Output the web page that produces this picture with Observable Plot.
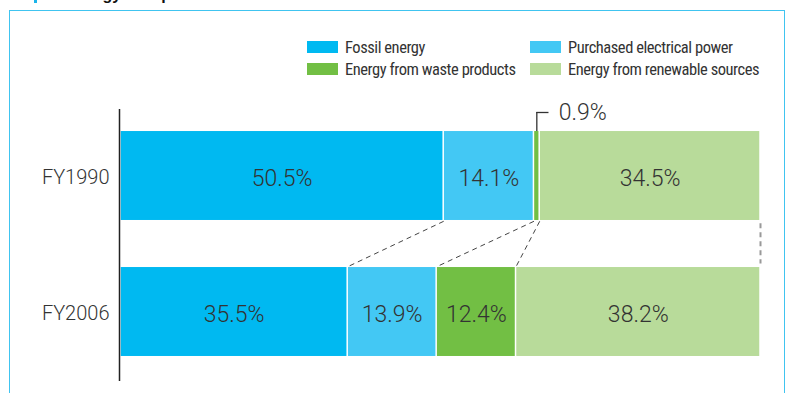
<!DOCTYPE html>
<html>
<head>
<meta charset="utf-8">
<script src="https://cdn.jsdelivr.net/npm/d3@7"></script>
<script src="https://cdn.jsdelivr.net/npm/@observablehq/plot@0.6"></script>
<style>
  html, body { margin: 0; padding: 0; background: #fff; }
  #wrap { position: relative; width: 791px; height: 393px; overflow: hidden; background: #fff; }
  #frame { position: absolute; left: 9px; top: 10px; width: 776px; height: 400px; border: 1.5px solid #40C4F0; box-sizing: border-box; }
  #title { position: absolute; left: 67px; top: -13.5px; font: bold 16px "Liberation Sans", Arial, sans-serif; line-height: 16px; color: #111; white-space: nowrap; }
  #mark { position: absolute; left: 34px; top: -10px; width: 3px; height: 13px; background: #1BB4EA; }
  #legend { position: absolute; left: 307px; top: 41px; display: grid; grid-template-columns: 223px 240px; row-gap: 10px; font-family: "Liberation Sans Narrow", "Roboto Condensed", Roboto, sans-serif; font-size: 16.5px; letter-spacing: -0.45px; color: #333; }
  .item { display: flex; align-items: center; height: 12px; white-space: nowrap; }
  .sw { width: 31px; height: 12px; margin-right: 7px; flex: none; }
  #chart { position: absolute; left: 0; top: 0; }
</style>
</head>
<body>
<div id="wrap">
  <div id="mark"></div>
  <div id="title">Energy Composition</div>
  <div id="frame"></div>
  <div id="legend"></div>
  <div id="chart"></div>
</div>
<script>
const years = ["FY1990", "FY2006"];
const categories = ["Fossil energy", "Purchased electrical power", "Energy from waste products", "Energy from renewable sources"];
const colors = ["#00B9F1", "#43C8F4", "#72BF44", "#B8DB9A"];
const fy1990 = [50.5, 14.1, 0.9, 34.5];
const fy2006 = [35.5, 13.9, 12.4, 38.2];
const legendOrder = [0, 1, 2, 3];

// legend
const legend = document.getElementById("legend");
legendOrder.forEach(i => {
  const it = document.createElement("div");
  it.className = "item";
  const sw = document.createElement("span");
  sw.className = "sw";
  sw.style.background = colors[i];
  const tx = document.createElement("span");
  tx.textContent = categories[i];
  it.appendChild(sw); it.appendChild(tx);
  legend.appendChild(it);
});

// build segments
const series = [fy1990, fy2006];
const segments = [];
series.forEach((vals, row) => {
  let acc = 0;
  vals.forEach((v, k) => {
    segments.push({year: years[row], row, category: categories[k], value: v, x1: acc, x2: acc + v, mid: acc + v / 2});
    acc += v;
  });
});

const half = 0.327;   // half bar thickness in row units
const leader = 0.14;  // leader length in row units

const boundaries = [1, 2, 3].map(k => ({
  x1: d3.sum(fy1990.slice(0, k)),
  x2: d3.sum(fy2006.slice(0, k))
}));
const edge = [{x1: d3.sum(fy1990), x2: d3.sum(fy2006)}];

const inside = segments.filter(d => d.value >= 5);
const small = segments.filter(d => d.value < 5);

const fontMain = "Roboto, 'Liberation Sans', sans-serif";

const chart = Plot.plot({
  width: 791,
  height: 393,
  marginLeft: 120,
  marginRight: 31,
  marginTop: 109,
  marginBottom: 12,
  style: {background: "transparent", fontFamily: fontMain},
  x: {domain: [0, 100], axis: null},
  y: {domain: [-0.489, 1.511], reverse: true, axis: null},
  color: {domain: categories, range: colors},
  marks: [
    Plot.link(boundaries, {x1: "x1", x2: "x2", y1: () => 0 + half + 0.006, y2: () => 1 - half - 0.006, stroke: "#444", strokeWidth: 1, strokeDasharray: "5,4"}),
    Plot.link(edge, {x1: "x1", x2: "x2", y1: () => 0 + half + 0.02, y2: () => 1 - half - 0.03, stroke: "#999", strokeWidth: 2, strokeDasharray: "5,4"}),
    Plot.rect(segments, {x1: "x1", x2: "x2", y1: d => d.row - half, y2: d => d.row + half, fill: "category", insetLeft: 0.75, insetRight: 0.75}),
    Plot.text(inside, {x: "mid", y: "row", dy: 3, text: d => d.value.toFixed(1) + "%", fontSize: 23, fontWeight: 300, fill: "#333"}),
    Plot.ruleX(small, {x: "mid", y1: d => d.row - half - leader, y2: d => d.row - half, stroke: "#333", strokeWidth: 1.3}),
    Plot.ruleY(small, {y: d => d.row - half - leader, x1: "mid", x2: d => d.mid + 1.9, stroke: "#333", strokeWidth: 1.3}),
    Plot.text(small, {x: "mid", y: d => d.row - half - leader, dx: 22, textAnchor: "start", text: d => d.value.toFixed(1) + "%", fontSize: 23, fontWeight: 300, fill: "#333"}),
    Plot.text(years, {x: () => 0, y: (d, i) => i, text: d => d, dx: -11, dy: 2, textAnchor: "end", fontSize: 20, fontWeight: 300, fill: "#333"}),
    Plot.ruleX([0], {dx: -1, stroke: "#222", strokeWidth: 1.5})
  ]
});
document.getElementById("chart").appendChild(chart);
</script>
</body>
</html>
